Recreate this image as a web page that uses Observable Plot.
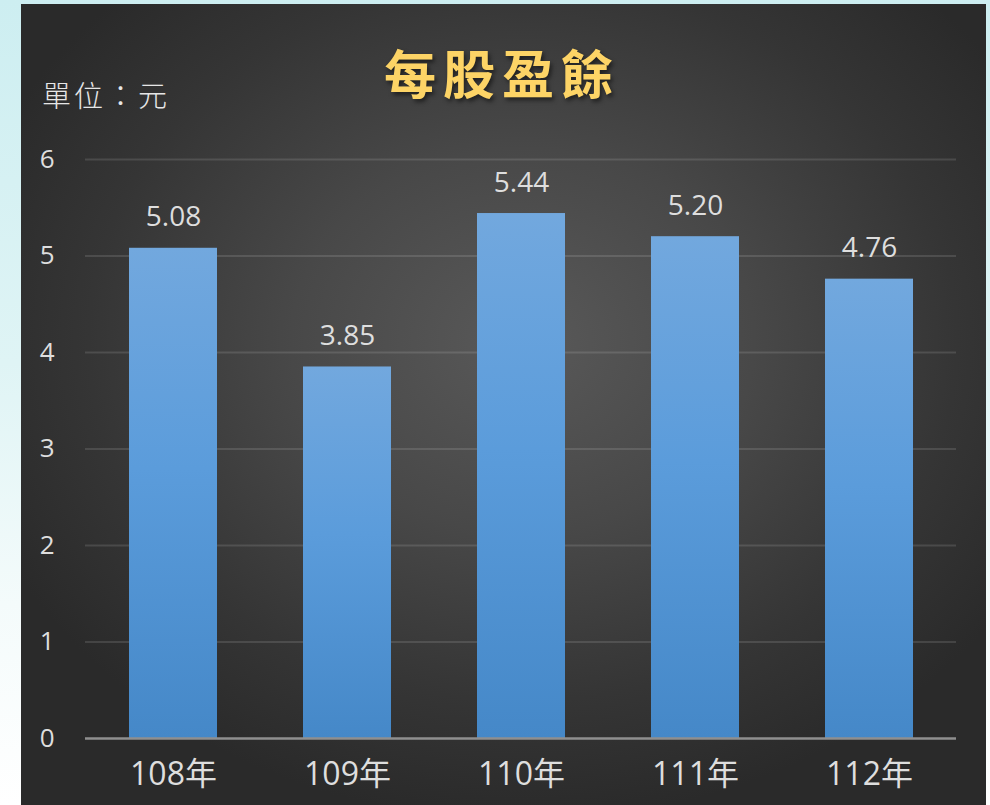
<!DOCTYPE html>
<html>
<head>
<meta charset="utf-8">
<script src="https://cdn.jsdelivr.net/npm/d3@7"></script>
<script src="https://cdn.jsdelivr.net/npm/@observablehq/plot@0.6"></script>
<style>
  html, body { margin: 0; padding: 0; }
  body { width: 990px; height: 805px; overflow: hidden; position: relative;
    background: linear-gradient(to bottom, #cdeef1 0%, #dff4f5 45%, #f4fbfb 75%, #ffffff 100%); }
  #panel { position: absolute; left: 21px; top: 4px; width: 965px; height: 801px;
    background: radial-gradient(ellipse 60% 60% at 52% 42%, #595959 0%, #484848 40%, #353535 75%, #2a2a2a 100%); }
  #chart { position: absolute; left: 0; top: 0; }
  #title { position: absolute; left: 0; width: 1004px; top: 46px; text-align: center;
    font-family: "Noto Sans CJK TC", sans-serif; font-weight: 700; font-size: 52px; letter-spacing: 7px;
    color: #fdd466; text-shadow: 2px 3px 4px rgba(0,0,0,0.5); line-height: 1; }
  #unit { position: absolute; left: 42px; top: 80px; font-family: "Noto Sans CJK TC", sans-serif;
    font-weight: 300; font-size: 29px; color: #e6e6e6; line-height: 1; letter-spacing: 3px; }
</style>
</head>
<body>
<div id="panel"></div>
<div id="chart"></div>
<div id="title">每股盈餘</div>
<div id="unit">單位：元</div>
<script>
const years = ["108年", "109年", "110年", "111年", "112年"];
const eps = [5.08, 3.85, 5.44, 5.20, 4.76];
const yTicks = [0, 1, 2, 3, 4, 5, 6];

const data = years.map((y, i) => ({year: y, value: eps[i]}));
const font = '"Open Sans", "Noto Sans CJK TC", sans-serif';

const chart = Plot.plot({
  width: 990,
  height: 805,
  marginLeft: 85,
  marginRight: 34,
  marginTop: 159,
  marginBottom: 67,
  style: {background: "transparent", fontFamily: font, overflow: "visible"},
  x: {domain: years, paddingInner: 0.495, paddingOuter: 0.2475, axis: null},
  y: {domain: [0, 6], axis: null},
  marks: [
    Plot.ruleY(yTicks.filter(d => d > 0), {stroke: "#ffffff", strokeOpacity: 0.12, strokeWidth: 2}),
    Plot.barY(data, {x: "year", y: "value", fill: "url(#barGrad)",
      style: {filter: "drop-shadow(0px 0px 4px rgba(0,0,0,0.45))"}}),
    Plot.ruleY([0], {stroke: "#8f8f8f", strokeWidth: 2.5}),
    Plot.text(data, {x: "year", y: "value", text: d => d.value.toFixed(2), dy: -31,
      fontSize: 28, fill: "#dedede", lineAnchor: "middle", fontFamily: font}),
    Plot.text(yTicks, {y: d => d, text: d => String(d), frameAnchor: "left", dx: -31,
      textAnchor: "end", fontSize: 26, fill: "#dedede", fontFamily: font}),
    Plot.text(years, {x: d => d, y: 0, text: d => d, dy: 36, fontSize: 32, fill: "#dedede",
      lineAnchor: "middle", fontFamily: font})
  ]
});

const ns = "http://www.w3.org/2000/svg";
const defs = document.createElementNS(ns, "defs");
defs.innerHTML = `<linearGradient id="barGrad" x1="0" y1="0" x2="0" y2="1">
  <stop offset="0%" stop-color="#72a8de"/>
  <stop offset="45%" stop-color="#5b9cdb"/>
  <stop offset="100%" stop-color="#4588c8"/>
</linearGradient>`;
chart.insertBefore(defs, chart.firstChild);
document.getElementById("chart").appendChild(chart);
</script>
</body>
</html>
